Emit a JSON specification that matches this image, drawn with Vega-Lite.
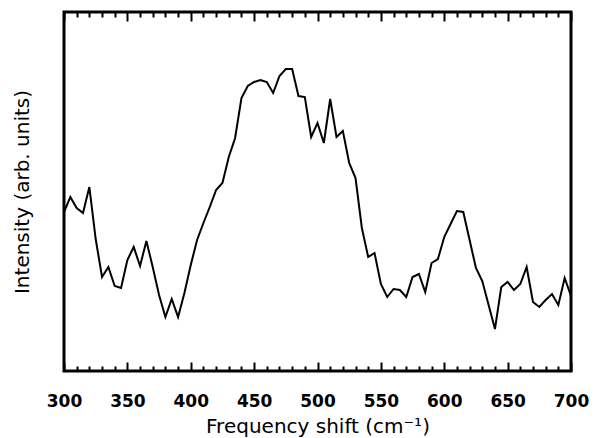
{
  "$schema": "https://vega.github.io/schema/vega-lite/v6.json",
  "autosize": "none",
  "width": 507,
  "height": 359,
  "padding": {"left": 64, "top": 12, "right": 25, "bottom": 67},
  "background": "white",
  "config": {
    "view": {"stroke": "black", "strokeWidth": 3},
    "axis": {"grid": false, "domain": false, "labelColor": "black", "titleColor": "black", "tickColor": "black"}
  },
  "data": {"values": [
    {"f":300,"v":159},{"f":305,"v":174},{"f":310,"v":163},{"f":315,"v":158},{"f":320,"v":184},
    {"f":325,"v":132},{"f":330,"v":94},{"f":335,"v":104},{"f":340,"v":85},{"f":345,"v":83},
    {"f":350,"v":111},{"f":355,"v":124},{"f":360,"v":105},{"f":365,"v":130},{"f":370,"v":104},
    {"f":375,"v":76},{"f":380,"v":54},{"f":385,"v":72},{"f":390,"v":54},{"f":395,"v":78},
    {"f":400,"v":106},{"f":405,"v":131},{"f":410,"v":148},{"f":415,"v":164},{"f":420,"v":181},
    {"f":425,"v":188},{"f":430,"v":214},{"f":435,"v":233},{"f":440,"v":273},{"f":445,"v":285},
    {"f":450,"v":289},{"f":455,"v":291},{"f":460,"v":289},{"f":465,"v":278},{"f":470,"v":295},
    {"f":475,"v":302},{"f":480,"v":302},{"f":485,"v":275},{"f":490,"v":274},{"f":495,"v":234},
    {"f":500,"v":248},{"f":505,"v":228},{"f":510,"v":272},{"f":515,"v":234},{"f":520,"v":240},
    {"f":525,"v":208},{"f":530,"v":193},{"f":535,"v":143},{"f":540,"v":114},{"f":545,"v":118},
    {"f":550,"v":87},{"f":555,"v":74},{"f":560,"v":82},{"f":565,"v":81},{"f":570,"v":74},
    {"f":575,"v":94},{"f":580,"v":97},{"f":585,"v":79},{"f":590,"v":108},{"f":595,"v":112},
    {"f":600,"v":134},{"f":605,"v":147},{"f":610,"v":160},{"f":615,"v":159},{"f":620,"v":131},
    {"f":625,"v":103},{"f":630,"v":90},{"f":635,"v":66},{"f":640,"v":42},{"f":645,"v":84},
    {"f":650,"v":89},{"f":655,"v":81},{"f":660,"v":87},{"f":665,"v":104},{"f":670,"v":69},
    {"f":675,"v":64},{"f":680,"v":71},{"f":685,"v":77},{"f":690,"v":66},{"f":695,"v":93},
    {"f":700,"v":75}
  ]},
  "encoding": {
    "y": {"field": "v", "type": "quantitative", "scale": {"domain": [0, 359], "nice": false, "zero": false},
      "axis": {"labels": false, "ticks": false, "domain": false, "title": "Intensity (arb. units)",
        "titleFont": "DejaVu Sans", "titleFontSize": 20, "titleFontWeight": "normal", "titlePadding": 32}}
  },
  "layer": [
    {
      "mark": {"type": "line", "color": "black", "strokeWidth": 2, "clip": true},
      "encoding": {
        "x": {"field": "f", "type": "quantitative", "scale": {"domain": [300, 700], "nice": false, "zero": false},
          "axis": {"orient": "bottom",
            "values": [300,310,320,330,340,350,360,370,380,390,400,410,420,430,440,450,460,470,480,490,500,510,520,530,540,550,560,570,580,590,600,610,620,630,640,650,660,670,680,690,700],
            "labelExpr": "datum.value % 50 === 0 ? datum.label : ''",
            "tickSize": {"condition": {"test": "datum.value % 50 === 0", "value": -9}, "value": -5},
            "tickWidth": 2,
            "labelFont": "DejaVu Sans", "labelFontWeight": "bold", "labelFontSize": 17,
            "labelPadding": 31, "labelFlush": false, "labelOverlap": false,
            "title": "Frequency shift (cm⁻¹)", "titleFont": "DejaVu Sans", "titleFontSize": 20,
            "titleFontWeight": "normal", "titlePadding": 3}}
      }
    },
    {
      "mark": {"type": "line", "color": "black", "strokeOpacity": 0},
      "encoding": {
        "x": {"field": "f", "type": "quantitative", "scale": {"domain": [300, 700], "nice": false, "zero": false},
          "axis": {"orient": "top",
            "values": [300,310,320,330,340,350,360,370,380,390,400,410,420,430,440,450,460,470,480,490,500,510,520,530,540,550,560,570,580,590,600,610,620,630,640,650,660,670,680,690,700],
            "labels": false, "title": null,
            "tickSize": {"condition": {"test": "datum.value % 50 === 0", "value": -9}, "value": -5},
            "tickWidth": 2}}
      }
    }
  ],
  "resolve": {"axis": {"x": "independent"}}
}
